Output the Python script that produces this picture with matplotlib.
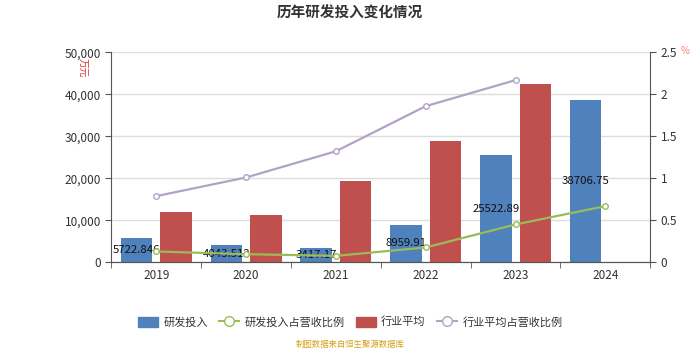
import matplotlib.pyplot as plt
from matplotlib.lines import Line2D
from matplotlib.patches import Patch
import numpy as np

plt.rcParams['font.family'] = ['Noto Sans CJK SC', 'DejaVu Sans']

years = ["2019", "2020", "2021", "2022", "2023", "2024"]
rd_invest = [5722.846, 4043.512, 3417.17, 8959.91, 25522.89, 38706.75]
rd_labels = ["5722.846", "4043.512", "3417.17", "8959.91", "25522.89", "38706.75"]
industry_avg = [11980, 11120, 19360, 28800, 42400, None]
rd_ratio = [0.127, 0.095, 0.075, 0.175, 0.449, 0.667]
industry_ratio = [0.786, 1.008, 1.32, 1.857, 2.167, None]

blue = "#4f81bd"
red = "#c0504d"
green = "#9bbb59"
purple = "#b3a2c7"

fig = plt.figure(figsize=(7, 3.5), dpi=100)
ax = fig.add_axes([0.159, 0.251, 0.770, 0.600])
ax2 = ax.twinx()

x = np.arange(len(years))
w = 0.35
off = 0.22

ax.bar(x - off, rd_invest, width=w, color=blue, zorder=2)
red_x = [xi + off for xi, v in zip(x, industry_avg) if v is not None]
red_v = [v for v in industry_avg if v is not None]
ax.bar(red_x, red_v, width=w, color=red, zorder=2)

for xi, v, lab in zip(x, rd_invest, rd_labels):
    ax.text(xi - off, v / 2, lab, ha="center", va="center", fontsize=8.2, color="#111111", zorder=5)

ax2.plot(x, rd_ratio, color=green, lw=1.6, marker="o", ms=4, mfc="white", mec=green, zorder=3)
ir_x = [xi for xi, v in zip(x, industry_ratio) if v is not None]
ir_v = [v for v in industry_ratio if v is not None]
ax2.plot(ir_x, ir_v, color=purple, lw=1.6, marker="o", ms=4, mfc="white", mec=purple, zorder=3)

ax.set_xlim(-0.5, len(years) - 0.5)
ax.set_ylim(0, 50000)
ax2.set_ylim(0, 2.5)
ax.set_yticks(np.arange(0, 50001, 10000))
ax.set_yticklabels([f"{int(t):,}" for t in np.arange(0, 50001, 10000)])
ax2.set_yticks([0, 0.5, 1, 1.5, 2, 2.5])
ax2.set_yticklabels(["0", "0.5", "1", "1.5", "2", "2.5"])

ax.set_xticks(x)
ax.set_xticklabels(years)
ax.set_xticks(np.arange(-0.5, len(years)), minor=True)
ax.tick_params(axis="x", which="major", length=0, labelsize=8.5, colors="#333333", pad=5)
ax.tick_params(axis="x", which="minor", length=4, color="#555555")
ax.tick_params(axis="y", length=4, labelsize=8.5, colors="#333333", color="#555555")
ax2.tick_params(axis="y", length=4, labelsize=8.5, colors="#333333", color="#555555")

ax.grid(axis="y", color="#dddddd", lw=1, zorder=0)
ax.set_axisbelow(True)
for a in (ax, ax2):
    a.spines["top"].set_visible(False)
    for s in ("left", "right", "bottom"):
        a.spines[s].set_color("#555555")
ax2.spines["left"].set_visible(False)
ax.spines["right"].set_visible(False)

fig.text(0.5, 0.965, "历年研发投入变化情况", ha="center", va="center", fontsize=10.5,
         fontweight="bold", color="#333333")
fig.text(0.118, 0.805, "万元", rotation=-90, ha="center", va="center", fontsize=7, color="#e03030")
fig.text(0.978, 0.855, "%", ha="center", va="center", fontsize=7, color="#f08080")

handles = [
    Patch(facecolor=blue, edgecolor=blue),
    Line2D([], [], color=green, lw=1.5, marker="o", ms=7, mfc="white", mec=green),
    Patch(facecolor=red, edgecolor=red),
    Line2D([], [], color=purple, lw=1.5, marker="o", ms=7, mfc="white", mec=purple),
]
labels = ["研发投入", "研发投入占营收比例", "行业平均", "行业平均占营收比例"]
fig.legend(handles, labels, loc="center", bbox_to_anchor=(0.5, 0.08), ncol=4, frameon=False,
           fontsize=8, handlelength=1.8, handleheight=1.0, columnspacing=1.0, handletextpad=0.5,
           labelcolor="#333333")

fig.text(0.5, 0.017, "制图数据来自恒生聚源数据库", ha="center", va="center", fontsize=6, color="#d4a017")

fig.savefig("out.png", dpi=100)
